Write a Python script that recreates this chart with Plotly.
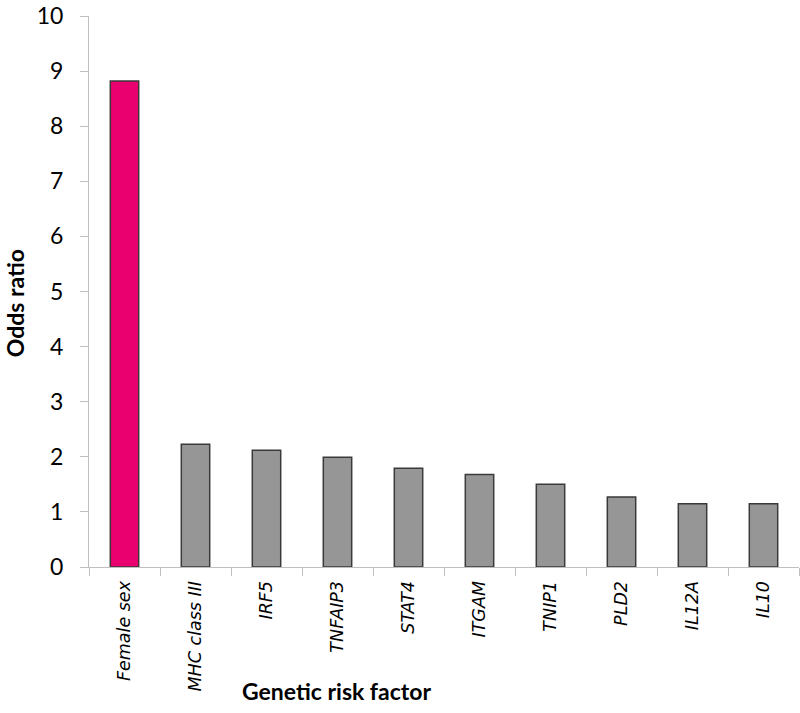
import plotly.graph_objects as go

categories = ["Female sex", "MHC class III", "IRF5", "TNFAIP3", "STAT4",
              "ITGAM", "TNIP1", "PLD2", "IL12A", "IL10"]
odds_ratio = [8.82, 2.23, 2.12, 1.99, 1.79, 1.68, 1.50, 1.27, 1.15, 1.15]
bar_colors = ["#EA006F"] + ["#969696"] * 9
y_ticks = [0, 1, 2, 3, 4, 5, 6, 7, 8, 9, 10]

fig = go.Figure(go.Bar(
    x=categories, y=odds_ratio,
    marker=dict(color=bar_colors, line=dict(color="#3a3a3a", width=1.5)),
    width=0.4,
))

fig.update_layout(
    width=800, height=713,
    margin=dict(l=89, r=1, t=16, b=146),
    paper_bgcolor="white", plot_bgcolor="white",
    showlegend=False,
    xaxis=dict(
        type="category", automargin=False,
        showline=True, linecolor="#BFBFBF", linewidth=1,
        ticks="outside", tickson="boundaries", ticklen=8, tickcolor="#BFBFBF",
        tickangle=-90, ticklabelstandoff=6,
        tickfont=dict(family="DejaVu Sans", size=17.5, color="black", style="italic"),
        showgrid=False, zeroline=False,
    ),
    yaxis=dict(
        range=[0, 10], tickvals=y_ticks, automargin=False,
        showline=True, linecolor="#BFBFBF", linewidth=1,
        ticks="outside", ticklen=8, tickcolor="#BFBFBF",
        ticklabelstandoff=12, ticklabeloverflow="allow",
        tickfont=dict(family="Lato", size=23, color="black"),
        showgrid=False, zeroline=False,
    ),
    annotations=[
        dict(text="<b>Genetic risk factor</b>", x=0.349, y=-0.225,
             xref="paper", yref="paper", xanchor="center", yanchor="middle",
             showarrow=False, font=dict(family="Lato", size=23, color="black")),
        dict(text="<b>Odds ratio</b>", x=-0.104, y=0.479, textangle=-90,
             xref="paper", yref="paper", xanchor="center", yanchor="middle",
             showarrow=False, font=dict(family="Lato", size=23, color="black")),
    ],
)

fig.write_html("out.html", config={"displayModeBar": False},
               post_script="document.body.style.margin='0';")
